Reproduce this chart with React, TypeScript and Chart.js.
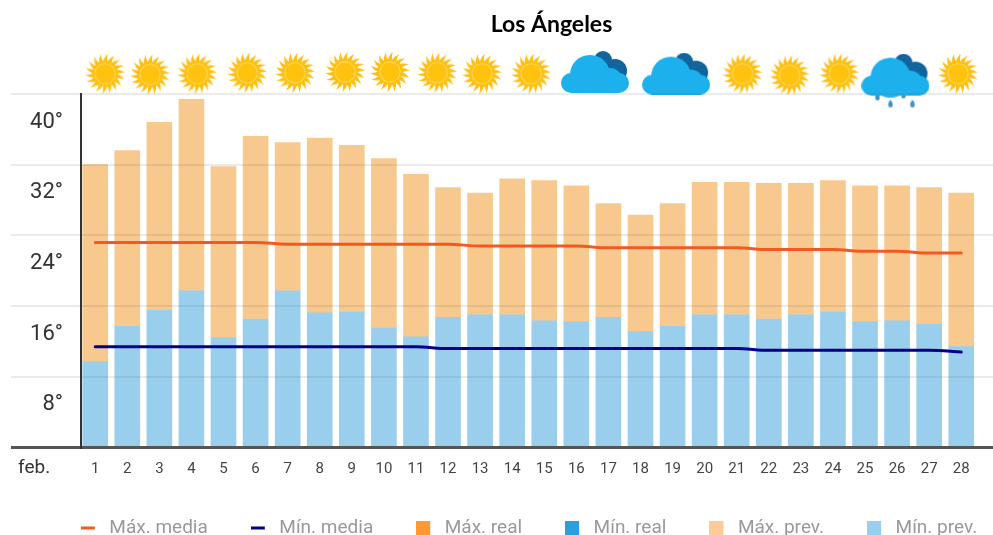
import React, { useEffect, useRef } from "react";
import { Chart, registerables } from "chart.js";

Chart.register(...registerables);

const days = [1, 2, 3, 4, 5, 6, 7, 8, 9, 10, 11, 12, 13, 14, 15, 16, 17, 18, 19, 20, 21, 22, 23, 24, 25, 26, 27, 28];
const maxPrev = [32.0, 33.6, 36.8, 39.4, 31.8, 35.2, 34.5, 35.0, 34.2, 32.7, 30.9, 29.4, 28.8, 30.4, 30.2, 29.6, 27.6, 26.3, 27.6, 30.0, 30.0, 29.9, 29.9, 30.2, 29.6, 29.6, 29.4, 28.8];
const minPrev = [9.8, 13.8, 15.6, 17.8, 12.5, 14.6, 17.8, 15.3, 15.4, 13.6, 12.6, 14.8, 15.1, 15.1, 14.4, 14.3, 14.8, 13.2, 13.8, 15.1, 15.1, 14.6, 15.1, 15.4, 14.3, 14.4, 14.0, 11.5];
const maxMedia = [23.2, 23.2, 23.2, 23.2, 23.2, 23.2, 23.0, 23.0, 23.0, 23.0, 23.0, 23.0, 22.8, 22.8, 22.8, 22.8, 22.6, 22.6, 22.6, 22.6, 22.6, 22.4, 22.4, 22.4, 22.2, 22.2, 22.0, 22.0];
const minMedia = [11.4, 11.4, 11.4, 11.4, 11.4, 11.4, 11.4, 11.4, 11.4, 11.4, 11.4, 11.2, 11.2, 11.2, 11.2, 11.2, 11.2, 11.2, 11.2, 11.2, 11.2, 11.0, 11.0, 11.0, 11.0, 11.0, 11.0, 10.8];
const iconDays = [1.31, 2.71, 4.18, 5.74, 7.23, 8.79, 10.19, 11.66, 13.06, 14.59, 16.58, 19.11, 21.18, 22.65, 24.2, 25.95, 27.9];
const iconLevels = [42.3, 42.2, 42.3, 42.4, 42.4, 42.5, 42.5, 42.4, 42.3, 42.3, 42.5, 42.3, 42.3, 42.1, 42.3, 41.4, 42.3];
const iconKinds = ["sun", "sun", "sun", "sun", "sun", "sun", "sun", "sun", "sun", "sun", "cloud", "cloud", "sun", "sun", "sun", "rain", "sun"];
const yTicks = [0, 8, 16, 24, 32, 40];

function blank(w: number, h: number) {
  const c = document.createElement("canvas");
  c.width = w;
  c.height = h;
  return c;
}

function sunIcon() {
  const c = blank(40, 40);
  const g = c.getContext("2d")!;
  g.translate(20, 20);
  g.fillStyle = "#FFBE12";
  const rays = 18;
  for (let i = 0; i < rays; i++) {
    g.save();
    g.rotate((i * Math.PI * 2) / rays);
    g.beginPath();
    g.moveTo(-2.6, -10.5);
    g.quadraticCurveTo(-1.5, -16, 2.6, -20);
    g.quadraticCurveTo(1.2, -15, 2.6, -10.5);
    g.closePath();
    g.fill();
    g.restore();
  }
  g.beginPath();
  g.arc(0, 0, 12, 0, Math.PI * 2);
  g.fillStyle = "#FFC20E";
  g.fill();
  g.beginPath();
  g.arc(0, 0, 10.2, 0, Math.PI * 2);
  g.lineWidth = 0.9;
  g.strokeStyle = "#FFE07A";
  g.stroke();
  return c;
}

function paintCloud(g: CanvasRenderingContext2D) {
  g.fillStyle = "#12659C";
  [[42, 9, 9], [54, 20, 12]].forEach(([x, y, r]) => {
    g.beginPath();
    g.arc(x, y, r, 0, Math.PI * 2);
    g.fill();
  });
  g.fillStyle = "#1CB1EC";
  g.beginPath();
  g.roundRect(0, 22, 68, 20, 10);
  g.fill();
  [[29, 24, 20], [49, 29, 12]].forEach(([x, y, r]) => {
    g.beginPath();
    g.arc(x, y, r, 0, Math.PI * 2);
    g.fill();
  });
}

function cloudIcon() {
  const c = blank(68, 42);
  paintCloud(c.getContext("2d")!);
  return c;
}

function rainIcon() {
  const c = blank(68, 56);
  const g = c.getContext("2d")!;
  g.fillStyle = "#3D8FC4";
  [[16, 43], [29, 50], [42, 41], [51, 50]].forEach(([x, y]) => {
    g.beginPath();
    g.moveTo(x, y - 4);
    g.quadraticCurveTo(x + 3, y, x + 2, y + 2);
    g.arc(x, y + 1.5, 2.2, 0, Math.PI);
    g.quadraticCurveTo(x - 3, y, x, y - 4);
    g.fill();
  });
  paintCloud(g);
  return c;
}

function marker(color: string, h: number) {
  const c = blank(19, 16);
  const g = c.getContext("2d")!;
  g.fillStyle = color;
  g.fillRect(0, (16 - h) / 2, 14, h);
  return c;
}

const App = () => {
  const ref = useRef<HTMLCanvasElement | null>(null);

  useEffect(() => {
    const sun = sunIcon();
    const cloud = cloudIcon();
    const rain = rainIcon();
    const icons = iconKinds.map((k) => (k === "sun" ? sun : k === "cloud" ? cloud : rain));
    const markers = [
      marker("#F15A22", 3),
      marker("#00008B", 3),
      marker("#FF9933", 14),
      marker("#2B9FD9", 14),
      marker("#FFC998", 14),
      marker("#98CFEE", 14),
    ];

    const placePlugin = {
      id: "place",
      afterLayout(chart: any) {
        chart.titleBlock.left += 110;
        chart.legend.right += 65;
        chart.legend.top -= 2;
      },
      afterDraw(chart: any) {
        const g = chart.ctx;
        g.save();
        g.font = "19px Roboto";
        g.fillStyle = "#333";
        g.textAlign = "left";
        g.textBaseline = "middle";
        g.fillText("feb.", chart.chartArea.left - 63, chart.chartArea.bottom + 21);
        g.restore();
      },
    };

    const chart = new Chart(ref.current!, {
      type: "bar",
      plugins: [placePlugin],
      data: {
        datasets: [
          { type: "line", label: "Máx. media", data: days.map((d, i) => ({ x: d, y: maxMedia[i] })), borderColor: "#F15A22", borderWidth: 3, pointRadius: 0, cubicInterpolationMode: "monotone", borderCapStyle: "round" },
          { type: "line", label: "Mín. media", data: days.map((d, i) => ({ x: d, y: minMedia[i] })), borderColor: "#00008B", borderWidth: 3, pointRadius: 0, cubicInterpolationMode: "monotone", borderCapStyle: "round" },
          { label: "Máx. real", data: [], backgroundColor: "#FF9933" },
          { label: "Mín. real", data: [], backgroundColor: "#2B9FD9" },
          { label: "Máx. prev.", data: days.map((d, i) => ({ x: d, y: [minPrev[i], maxPrev[i]] })), backgroundColor: "#F8C98F", barThickness: 25, grouped: false },
          { label: "Mín. prev.", data: days.map((d, i) => ({ x: d, y: minPrev[i] })), backgroundColor: "#99CFEC", barThickness: 25, grouped: false },
          {
            type: "scatter",
            label: "Tiempo",
            data: iconDays.map((d, i) => ({ x: d, y: iconLevels[i] })),
            pointStyle: icons,
            pointRadius: 60,
            clip: false,
            showLine: false,
          },
        ],
      } as any,
      options: {
        responsive: false,
        animation: false,
        devicePixelRatio: 1,
        layout: { autoPadding: false, padding: { bottom: -14.5 } },
        plugins: {
          tooltip: { enabled: false },
          title: {
            display: true,
            text: "Los Ángeles",
            color: "#000",
            font: { family: "Lato", weight: "bold", size: 23 },
            padding: { top: 11, bottom: 55.4 },
          },
          legend: {
            display: true,
            position: "bottom",
            labels: {
              usePointStyle: true,
              pointStyleWidth: 19,
              padding: 43,
              color: "#999",
              font: { family: "Roboto", size: 19 },
              generateLabels: (c: any) =>
                c.data.datasets
                  .map((d: any, i: number) => ({
                    text: d.label,
                    pointStyle: markers[i],
                    fontColor: "#999",
                    fillStyle: "#999",
                    strokeStyle: "transparent",
                    lineWidth: 0,
                    hidden: false,
                    datasetIndex: i,
                  }))
                  .filter((_: any, i: number) => i < markers.length),
            },
          },
        },
        scales: {
          x: {
            type: "linear",
            offset: false,
            min: 0.557,
            max: 28.99,
            grid: { display: false },
            border: { display: false },
            afterBuildTicks: (s: any) => {
              s.ticks = days.map((d) => ({ value: d }));
            },
            afterFit: (s: any) => {
              s.height = 30;
            },
            ticks: {
              autoSkip: false,
              maxRotation: 0,
              padding: 5,
              color: "#444",
              font: { family: "Roboto", size: 15 },
              callback: (v: any) => String(v),
            },
          },
          y: {
            min: 0,
            max: 40,
            afterBuildTicks: (s: any) => {
              s.ticks = yTicks.map((v) => ({ value: v }));
            },
            afterFit: (s: any) => {
              s.width = 81;
            },
            border: { display: true, color: "#333", width: 2, z: 1 },
            grid: {
              z: 1,
              tickLength: 70,
              color: (c: any) => (c.tick && c.tick.value === 0 ? "#555" : "rgba(90,90,90,0.12)"),
              lineWidth: (c: any) => (c.tick && c.tick.value === 0 ? 3 : 2),
            },
            ticks: {
              padding: -52,
              labelOffset: 28,
              color: "#333",
              font: { family: "Roboto", size: 22 },
              callback: (v: any) => (v === 0 ? "" : v + "°"),
            },
          },
        },
      } as any,
    });
    return () => chart.destroy();
  }, []);

  return (
    <div style={{ position: "fixed", left: 0, top: 0, width: 993, height: 535, background: "#fff" }}>
      <canvas ref={ref} width={993} height={535} style={{ display: "block" }} />
    </div>
  );
};

export default App;
